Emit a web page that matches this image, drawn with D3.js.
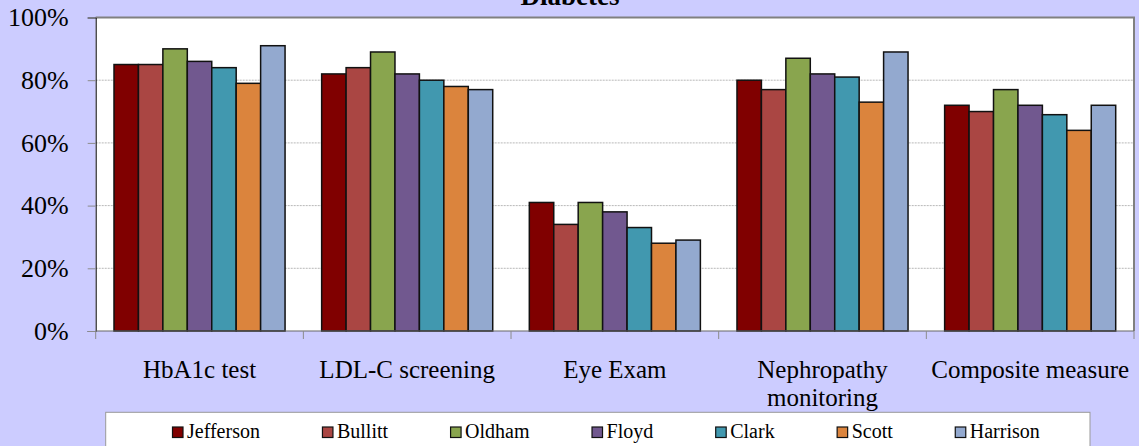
<!DOCTYPE html>
<html>
<head>
<meta charset="utf-8">
<script src="https://cdn.jsdelivr.net/npm/d3@7"></script>
<style>
  html, body { margin: 0; padding: 0; background: #ccccff; }
  svg text { font-family: "Liberation Serif", "Times New Roman", Times, "Nimbus Roman", Tinos, "DejaVu Serif", serif; }
</style>
</head>
<body>
<svg id="chart"></svg>
<script>
const width = 1139;
const height = 446;

// data
const categories = ["HbA1c test", "LDL-C screening", "Eye Exam", "Nephropathy\nmonitoring", "Composite measure"];
const counties = ["Jefferson", "Bullitt", "Oldham", "Floyd", "Clark", "Scott", "Harrison"];
const colors = ["#800000", "#aa4643", "#89a54e", "#71588f", "#4198af", "#db843d", "#93a9cf"];
const jefferson = [0.85, 0.82, 0.41, 0.80, 0.72];
const bullitt   = [0.85, 0.84, 0.34, 0.77, 0.70];
const oldham    = [0.90, 0.89, 0.41, 0.87, 0.77];
const floyd     = [0.86, 0.82, 0.38, 0.82, 0.72];
const clark     = [0.84, 0.80, 0.33, 0.81, 0.69];
const scott     = [0.79, 0.78, 0.28, 0.73, 0.64];
const harrison  = [0.91, 0.77, 0.29, 0.89, 0.72];
const yTicks = [0, 0.2, 0.4, 0.6, 0.8, 1];

const series = [jefferson, bullitt, oldham, floyd, clark, scott, harrison];

const svg = d3.select("#chart")
    .attr("width", width)
    .attr("height", height);

svg.append("rect")
    .attr("width", width)
    .attr("height", height)
    .attr("fill", "#ccccff");

const plot = { left: 95.7, right: 1134, top: 17.5, bottom: 331 };

const x0 = d3.scaleBand()
    .domain(d3.range(categories.length))
    .range([plot.left, plot.right]);

const groupPad = 18.3;
const x1 = d3.scaleBand()
    .domain(d3.range(counties.length))
    .range([groupPad, x0.bandwidth() - groupPad]);

const y = d3.scaleLinear()
    .domain([0, 1])
    .range([plot.bottom, plot.top]);

// plot area
svg.append("rect")
    .attr("x", plot.left)
    .attr("y", plot.top)
    .attr("width", plot.right - plot.left)
    .attr("height", plot.bottom - plot.top)
    .attr("fill", "#fff");

// gridlines
svg.append("g")
    .selectAll("line")
    .data(yTicks.slice(1, -1))
    .enter()
    .append("line")
    .attr("x1", plot.left)
    .attr("x2", plot.right)
    .attr("y1", d => y(d))
    .attr("y2", d => y(d))
    .attr("stroke", "#a6a6a6")
    .attr("stroke-width", 0.8)
    .attr("stroke-dasharray", "2,1");

// top and right border
svg.append("path")
    .attr("d", `M${plot.left},${plot.top}H${plot.right}V${plot.bottom}`)
    .attr("fill", "none")
    .attr("stroke", "#808080")
    .attr("stroke-width", 2);

// bars
const groups = svg.append("g")
    .selectAll("g")
    .data(categories)
    .enter()
    .append("g")
    .attr("transform", (d, i) => `translate(${x0(i)},0)`);

groups.selectAll("rect")
    .data((d, i) => series.map((s, j) => ({ j, v: s[i] })))
    .enter()
    .append("rect")
    .attr("x", d => x1(d.j))
    .attr("y", d => y(d.v))
    .attr("width", x1.bandwidth())
    .attr("height", d => y(0) - y(d.v))
    .attr("fill", d => colors[d.j])
    .attr("stroke", "#111")
    .attr("stroke-width", 1.5);

// y axis
const yAxis = svg.append("g")
    .attr("transform", `translate(${plot.left},0)`)
    .call(d3.axisLeft(y)
        .tickValues(yTicks)
        .tickFormat(d3.format(".0%"))
        .tickSize(8)
        .tickPadding(19));

yAxis.attr("font-family", null);
yAxis.select(".domain").attr("stroke", "#000").attr("stroke-width", 1);
yAxis.selectAll(".tick line").attr("stroke", "#8c8c8c");
yAxis.selectAll("text")
    .style("font-size", "26px")
    .attr("fill", "#000");

// x axis line and ticks between categories
svg.append("line")
    .attr("x1", plot.left)
    .attr("x2", plot.right)
    .attr("y1", plot.bottom)
    .attr("y2", plot.bottom)
    .attr("stroke", "#666")
    .attr("stroke-width", 1.2);

svg.append("g")
    .selectAll("line")
    .data(d3.range(categories.length + 1))
    .enter()
    .append("line")
    .attr("x1", i => plot.left + i * x0.bandwidth())
    .attr("x2", i => plot.left + i * x0.bandwidth())
    .attr("y1", plot.bottom)
    .attr("y2", plot.bottom + 8)
    .attr("stroke", "#8c8c8c");

// category labels
const catLabels = svg.append("g")
    .selectAll("text")
    .data(categories)
    .enter()
    .append("text")
    .attr("x", (d, i) => x0(i) + x0.bandwidth() / 2)
    .attr("y", 378)
    .attr("text-anchor", "middle")
    .style("font-size", "25px")
    .attr("fill", "#000");

catLabels.selectAll("tspan")
    .data(d => d.split("\n"))
    .enter()
    .append("tspan")
    .attr("x", function () { return this.parentNode.getAttribute("x"); })
    .attr("dy", (d, i) => i === 0 ? 0 : 28)
    .text(d => d);

// title, mostly cut off at the top
svg.append("text")
    .attr("x", 570)
    .attr("y", 5)
    .attr("text-anchor", "middle")
    .style("font-size", "27px")
    .style("font-weight", "bold")
    .text("Diabetes");

// legend
const legend = svg.append("g");

legend.append("rect")
    .attr("x", 105.7)
    .attr("y", 412.3)
    .attr("width", 1090 - 105.7)
    .attr("height", 60)
    .attr("fill", "#fff")
    .attr("stroke", "#999")
    .attr("stroke-width", 1);

let lx = 172;
counties.forEach((name, i) => {
    const item = legend.append("g").attr("transform", `translate(${lx},0)`);
    item.append("rect")
        .attr("x", 0.5)
        .attr("y", 427)
        .attr("width", 10.5)
        .attr("height", 10.5)
        .attr("fill", colors[i])
        .attr("stroke", "#111")
        .attr("stroke-width", 1.2);
    const t = item.append("text")
        .attr("x", 15)
        .attr("y", 438)
        .style("font-size", "20px")
        .text(name);
    lx += 15 + t.node().getComputedTextLength() + 62;
});
</script>
</body>
</html>
